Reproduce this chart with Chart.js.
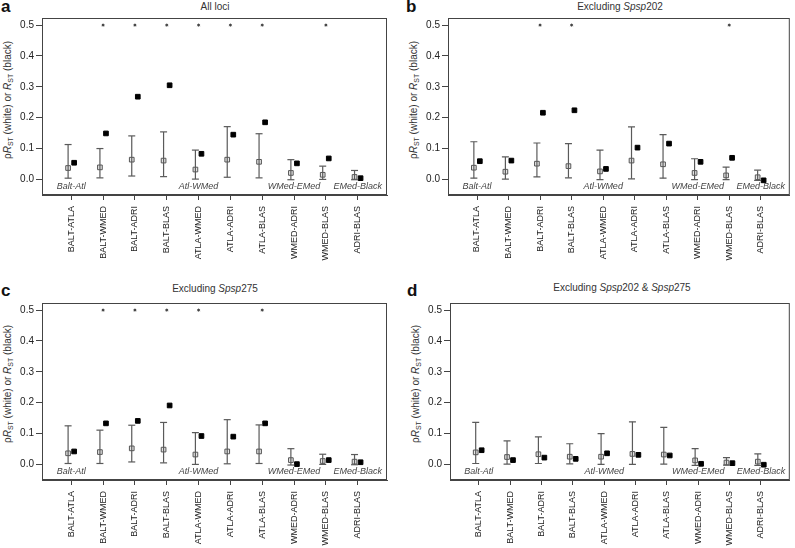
<!DOCTYPE html>
<html>
<head>
<meta charset="utf-8">
<script src="https://cdn.jsdelivr.net/npm/chart.js@4.4.0/dist/chart.umd.min.js"></script>
<style>
  body { margin: 0; background: #fff; width: 795px; height: 548px; overflow: hidden; position: relative; font-family: 'Liberation Sans', Arial, sans-serif; }
  canvas { position: absolute; }
  .letter { position: absolute; font-weight: bold; font-size: 17px; line-height: 17px; color: #111; }
  .title { position: absolute; font-size: 10px; line-height: 12px; color: #333; white-space: nowrap; transform: translateX(-50%); }
  .ytitle { position: absolute; font-size: 10px; line-height: 12px; color: #333; white-space: nowrap; transform: translate(-50%, -50%) rotate(-90deg); }
  .ytitle sub { font-size: 7px; vertical-align: -2px; line-height: 0; }
</style>
</head>
<body>
<div class="letter" style="left:1px;top:-2px">a</div>
<div class="letter" style="left:406px;top:-2px">b</div>
<div class="letter" style="left:1px;top:282px">c</div>
<div class="letter" style="left:407px;top:282px">d</div>

<div class="title" style="left:215px;top:1px">All loci</div>
<div class="title" style="left:620px;top:1px">Excluding <i>Spsp</i>202</div>
<div class="title" style="left:215px;top:283px">Excluding <i>Spsp</i>275</div>
<div class="title" style="left:622px;top:282px">Excluding <i>Spsp</i>202 &amp; <i>Spsp</i>275</div>

<div class="ytitle" style="left:8px;top:100px">ρ<i>R</i><sub>ST</sub> (white) or <i>R</i><sub>ST</sub> (black)</div>
<div class="ytitle" style="left:414px;top:100px">ρ<i>R</i><sub>ST</sub> (white) or <i>R</i><sub>ST</sub> (black)</div>
<div class="ytitle" style="left:8px;top:384px">ρ<i>R</i><sub>ST</sub> (white) or <i>R</i><sub>ST</sub> (black)</div>
<div class="ytitle" style="left:416px;top:384px">ρ<i>R</i><sub>ST</sub> (white) or <i>R</i><sub>ST</sub> (black)</div>

<canvas id="chartA" width="395" height="285" style="left:0;top:0"></canvas>
<canvas id="chartB" width="389" height="285" style="left:406px;top:0"></canvas>
<canvas id="chartC" width="395" height="263" style="left:0;top:285px"></canvas>
<canvas id="chartD" width="387" height="263" style="left:408px;top:285px"></canvas>

<script>
const pairs = ['BALT-ATLA', 'BALT-WMED', 'BALT-ADRI', 'BALT-BLAS', 'ATLA-WMED', 'ATLA-ADRI', 'ATLA-BLAS', 'WMED-ADRI', 'WMED-BLAS', 'ADRI-BLAS']
const yTicks = [0, 0.1, 0.2, 0.3, 0.4, 0.5]
const regionLabels = ['Balt-Atl', 'Atl-WMed', 'WMed-EMed', 'EMed-Black']
const regionAt = [1, 5, 8, 10]
const regionY = -0.022
const starY = 0.5

// a: all loci
const rhoA = [0.037, 0.039, 0.064, 0.061, 0.032, 0.064, 0.057, 0.021, 0.015, 0.008]
const lowA = [0.004, 0.005, 0.011, 0.009, 0.001, 0.007, 0.005, -0.001, 0.0, -0.001]
const highA = [0.113, 0.100, 0.141, 0.154, 0.095, 0.171, 0.148, 0.064, 0.043, 0.029]
const rstA = [0.054, 0.149, 0.268, 0.305, 0.083, 0.145, 0.185, 0.052, 0.068, 0.004]
const starsA = [2, 3, 4, 5, 6, 7, 9]

// b: excluding Spsp202
const rhoB = [0.038, 0.025, 0.051, 0.043, 0.026, 0.061, 0.049, 0.021, 0.013, 0.007]
const lowB = [0.004, 0.001, 0.008, 0.005, -0.001, 0.002, 0.004, -0.001, -0.001, -0.003]
const highB = [0.122, 0.073, 0.118, 0.116, 0.095, 0.170, 0.145, 0.067, 0.040, 0.030]
const rstB = [0.059, 0.061, 0.216, 0.224, 0.034, 0.103, 0.116, 0.057, 0.070, -0.003]
const starsB = [3, 4, 9]

// c: excluding Spsp275
const rhoC = [0.036, 0.040, 0.052, 0.048, 0.032, 0.042, 0.042, 0.014, 0.011, 0.009]
const lowC = [0.003, 0.003, 0.008, 0.005, 0.0, 0.002, 0.003, -0.002, 0.0, -0.001]
const highC = [0.125, 0.111, 0.127, 0.136, 0.103, 0.145, 0.128, 0.051, 0.033, 0.032]
const rstC = [0.042, 0.133, 0.141, 0.191, 0.092, 0.090, 0.133, 0.001, 0.014, 0.007]
const starsC = [2, 3, 4, 5, 7]

// d: excluding Spsp202 & Spsp275
const rhoD = [0.039, 0.024, 0.033, 0.025, 0.025, 0.034, 0.032, 0.013, 0.006, 0.009]
const lowD = [0.003, 0.001, 0.003, 0.002, 0.0, 0.0, 0.001, -0.003, -0.002, -0.003]
const highD = [0.136, 0.076, 0.089, 0.067, 0.100, 0.138, 0.120, 0.051, 0.022, 0.034]
const rstD = [0.046, 0.014, 0.022, 0.018, 0.036, 0.031, 0.029, 0.002, 0.004, -0.001]
const starsD = []

const axisColor = '#444'
const textColor = '#222'
const barColor = '#5a5a5a'

// box around the plotting region, like R's box()
const framePlugin = {
  id: 'frame',
  afterDraw(chart) {
    const { ctx, chartArea } = chart
    ctx.save()
    ctx.strokeStyle = axisColor
    ctx.lineWidth = 1
    ctx.strokeRect(chartArea.left + 0.5, chartArea.top + 0.5, chartArea.right - chartArea.left - 1, chartArea.bottom - chartArea.top - 1)
    ctx.restore()
  }
}

// italic region names under the bars
const regionPlugin = {
  id: 'regions',
  afterDatasetsDraw(chart) {
    const { ctx, scales } = chart
    ctx.save()
    ctx.font = 'italic 9px "Liberation Sans", Arial, sans-serif'
    ctx.fillStyle = '#444'
    ctx.textAlign = 'center'
    ctx.textBaseline = 'middle'
    regionLabels.forEach((label, i) => {
      ctx.fillText(label, scales.x.getPixelForValue(regionAt[i]), scales.y.getPixelForValue(regionY))
    })
    ctx.restore()
  }
}

function makeChart(id, rho, low, high, rst, stars, xHeight, yWidth, padRight) {
  const errData = []
  rho.forEach((v, i) => {
    const x = i + 1 - 0.1
    errData.push({ x: x, y: low[i] }, { x: x, y: high[i] }, { x: x, y: null })
  })

  return new Chart(document.getElementById(id), {
    type: 'scatter',
    data: {
      datasets: [
        {
          type: 'line',
          data: errData,
          borderColor: barColor,
          borderWidth: 1.2,
          pointStyle: 'line',
          pointRadius: 3.5,
          pointBorderColor: barColor,
          pointBorderWidth: 1.2,
          spanGaps: false,
          fill: false
        },
        {
          data: rho.map((v, i) => ({ x: i + 1 - 0.1, y: v })),
          pointStyle: 'rect',
          pointRadius: 3.3,
          backgroundColor: '#e6e6e6',
          borderColor: '#555',
          borderWidth: 1
        },
        {
          data: rst.map((v, i) => ({ x: i + 1 + 0.09, y: v })),
          pointStyle: 'rect',
          pointRadius: 3.3,
          backgroundColor: '#000',
          borderColor: '#000',
          borderWidth: 1
        },
        {
          data: stars.map(s => ({ x: s, y: starY })),
          pointStyle: 'star',
          pointRadius: 1.5,
          borderColor: '#444',
          borderWidth: 1
        }
      ]
    },
    options: {
      responsive: false,
      animation: false,
      layout: { padding: { top: 18, right: padRight, left: 0, bottom: 0 } },
      plugins: {
        legend: { display: false },
        tooltip: { enabled: false }
      },
      scales: {
        x: {
          type: 'linear',
          min: 0.08,
          max: 10.92,
          afterBuildTicks: (scale) => { scale.ticks = pairs.map((p, i) => ({ value: i + 1 })) },
          afterFit: (scale) => { scale.height = xHeight },
          ticks: {
            autoSkip: false,
            minRotation: 90,
            maxRotation: 90,
            padding: 6,
            color: textColor,
            font: { size: 9, family: '"Liberation Sans", Arial, sans-serif' },
            callback: (value, index) => pairs[index]
          },
          grid: { drawOnChartArea: false, drawTicks: true, tickLength: 5, color: axisColor },
          border: { display: true, color: axisColor }
        },
        y: {
          type: 'linear',
          min: -0.0505,
          max: 0.523,
          afterBuildTicks: (scale) => { scale.ticks = yTicks.map(v => ({ value: v })) },
          afterFit: (scale) => { scale.width = yWidth },
          ticks: {
            padding: 2,
            color: textColor,
            font: { size: 10, family: '"Liberation Sans", Arial, sans-serif' },
            callback: (value) => value.toFixed(1)
          },
          grid: { drawOnChartArea: false, drawTicks: true, tickLength: 6, color: axisColor },
          border: { display: true, color: axisColor }
        }
      }
    },
    plugins: [framePlugin, regionPlugin]
  })
}

makeChart('chartA', rhoA, lowA, highA, rstA, starsA, 90, 42, 8)
makeChart('chartB', rhoB, lowB, highB, rstB, starsB, 90, 42, 3)
makeChart('chartC', rhoC, lowC, highC, rstC, starsC, 68, 42, 8)
makeChart('chartD', rhoD, lowD, highD, rstD, starsD, 68, 42, 2)
</script>
</body>
</html>
